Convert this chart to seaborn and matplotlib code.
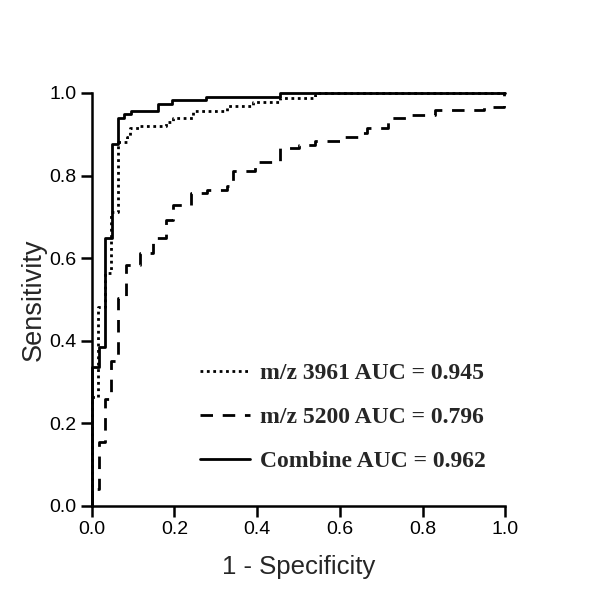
import matplotlib
matplotlib.use("Agg")
import matplotlib.pyplot as plt
import seaborn as sns
import pandas as pd

# ROC step vertices (top of each vertical step), drawn with steps-post
fpr_3961 = [0, 0, 0.015, 0.032, 0.047, 0.064, 0.085, 0.093, 0.115, 0.180, 0.196, 0.245, 0.326, 0.391, 0.455, 0.540, 0.550, 1.0]
tpr_3961 = [0, 0.265, 0.483, 0.564, 0.712, 0.882, 0.894, 0.915, 0.921, 0.929, 0.939, 0.956, 0.969, 0.979, 0.989, 0.995, 1.0, 1.0]

fpr_5200 = [0, 0, 0.017, 0.031, 0.047, 0.064, 0.082, 0.116, 0.148, 0.180, 0.197, 0.241, 0.278, 0.328, 0.342, 0.395, 0.455, 0.500, 0.540, 0.600, 0.644, 0.665, 0.717, 0.760, 0.830, 0.948, 0.996, 1.0]
tpr_5200 = [0, 0.04, 0.156, 0.26, 0.35, 0.504, 0.583, 0.612, 0.648, 0.692, 0.729, 0.757, 0.766, 0.775, 0.812, 0.834, 0.866, 0.874, 0.884, 0.893, 0.902, 0.915, 0.94, 0.947, 0.959, 0.965, 1.0, 1.0]

fpr_comb = [0, 0, 0.017, 0.031, 0.048, 0.064, 0.079, 0.095, 0.161, 0.194, 0.277, 0.455, 1.0]
tpr_comb = [0, 0.337, 0.386, 0.648, 0.876, 0.939, 0.948, 0.956, 0.973, 0.983, 0.991, 1.0, 1.0]

labels = ["m/z 3961 AUC = 0.945", "m/z 5200 AUC = 0.796", "Combine AUC = 0.962"]
x_ticks = [0.0, 0.2, 0.4, 0.6, 0.8, 1.0]
y_ticks = [0.0, 0.2, 0.4, 0.6, 0.8, 1.0]

sns.set_style("ticks")
plt.rcParams["font.family"] = ["Liberation Sans", "DejaVu Sans"]

fig = plt.figure(figsize=(6, 5.9), dpi=100)
ax = fig.add_axes([0.153, 0.1424, 0.689, 0.700])

series = [
    (fpr_3961, tpr_3961, labels[0], (0, (1, 1.3))),
    (fpr_5200, tpr_5200, labels[1], (0, (4.5, 3.5))),
    (fpr_comb, tpr_comb, labels[2], "-"),
]
for fx, ty, lab, ls in series:
    df = pd.DataFrame({"fpr": fx, "tpr": ty})
    sns.lineplot(data=df, x="fpr", y="tpr", ax=ax, sort=False, estimator=None,
                 drawstyle="steps-post", color="black", linewidth=2.0,
                 linestyle=ls, label=lab, clip_on=False)

ax.set_xlim(0, 1)
ax.set_ylim(0, 1)
ax.set_xticks(x_ticks)
ax.set_yticks(y_ticks)
ax.set_xticklabels([f"{v:.1f}" for v in x_ticks])
ax.set_yticklabels([f"{v:.1f}" for v in y_ticks])
for s in ["top", "right"]:
    ax.spines[s].set_visible(False)
for s in ["left", "bottom"]:
    ax.spines[s].set_linewidth(1.8)
    ax.spines[s].set_color("black")
ax.tick_params(axis="both", direction="out", length=8, width=1.8, labelsize=14,
               colors="black", pad=3)
ax.set_xlabel("1 - Specificity", fontsize=18.5, labelpad=12)
ax.set_ylabel("Sensitivity", fontsize=19.5, labelpad=2)

leg = ax.legend(loc="upper left", bbox_to_anchor=(0.262, 0.347), frameon=False,
                prop={"family": "Liberation Serif", "weight": "bold", "size": 17},
                handlelength=2.1, handletextpad=0.42, labelspacing=0.95,
                borderpad=0, borderaxespad=0)

fig.savefig("out.png", dpi=100)
